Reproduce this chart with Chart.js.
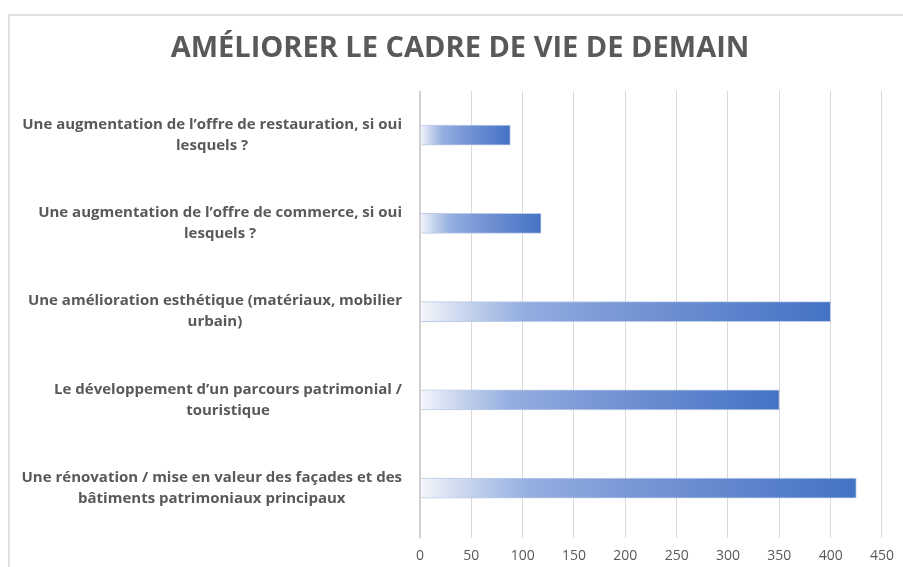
<!DOCTYPE html>
<html>
<head>
<meta charset="utf-8">
<script src="https://cdn.jsdelivr.net/npm/chart.js@4/dist/chart.umd.min.js"></script>
<style>
html, body { margin: 0; padding: 0; background: #fff; }
#wrap { position: relative; width: 903px; height: 567px; overflow: hidden; }
#frame { position: absolute; left: 8px; top: 14px; width: 1000px; height: 1000px;
         border-left: 2px solid #e0e0e0; border-top: 2px solid #e0e0e0; }
canvas { position: absolute; left: 0; top: 0; }
</style>
</head>
<body>
<div id="wrap">
  <div id="frame"></div>
  <canvas id="chart" width="903" height="577"></canvas>
</div>
<script>
// --- DATA ---
const chartTitle = "AMÉLIORER LE CADRE DE VIE DE DEMAIN";
const categories = [
    ["Une augmentation de l’offre de restauration, si oui", "lesquels ?"],
    ["Une augmentation de l’offre de commerce, si oui", "lesquels ?"],
    ["Une amélioration esthétique (matériaux, mobilier", "urbain)"],
    ["Le développement d’un parcours patrimonial /", "touristique"],
    ["Une rénovation / mise en valeur des façades et des", "bâtiments patrimoniaux principaux"]
];
const values = [88, 118, 400, 350, 425];
const xMin = 0;
const xMax = 450;
const xStep = 50;

const textColor = '#595959';
const gridColor = '#d9d9d9';

// gradient white -> blue for each bar, from 0 to the bar's end
function barGradient(c) {
    const chart = c.chart;
    if (!chart.chartArea || c.raw === undefined) return '#4472c4';
    const xs = chart.scales.x;
    const x0 = xs.getPixelForValue(0);
    const x1 = xs.getPixelForValue(c.raw);
    const g = chart.ctx.createLinearGradient(x0, 0, x1, 0);
    g.addColorStop(0, '#f4f6fb');
    g.addColorStop(0.12, '#c3d1ed');
    g.addColorStop(0.25, '#94aee0');
    g.addColorStop(0.5, '#7796d5');
    g.addColorStop(1, '#4472c4');
    return g;
}

// title + wrapped category labels drawn by hand (right block, centred lines)
const textPlugin = {
    id: 'texts',
    afterDraw(chart) {
        const ctx = chart.ctx;
        const ys = chart.scales.y;
        ctx.save();
        ctx.fillStyle = textColor;
        ctx.textBaseline = 'middle';
        ctx.textAlign = 'center';

        ctx.font = 'bold 29px "Open Sans"';
        ctx.fillText(chartTitle, 460, 49);

        ctx.font = 'bold 15px "Open Sans"';
        const lineH = 21;
        const rightEdge = 402;
        categories.forEach((lines, i) => {
            const y = ys.getPixelForValue(i);
            const w = Math.max(...lines.map(l => ctx.measureText(l).width));
            const cx = rightEdge - w / 2;
            lines.forEach((l, j) => {
                ctx.fillText(l, cx, y + (j - (lines.length - 1) / 2) * lineH);
            });
        });
        ctx.restore();
    }
};

new Chart(document.getElementById('chart'), {
    type: 'bar',
    data: {
        labels: categories.map(l => l.join(' ')),
        datasets: [{
            data: values,
            backgroundColor: barGradient,
            borderColor: 'rgba(180,199,231,0.9)',
            borderWidth: 1,
            barThickness: 20
        }]
    },
    options: {
        indexAxis: 'y',
        responsive: false,
        animation: false,
        layout: { padding: { top: 91, right: 20, bottom: 4, left: 0 } },
        plugins: {
            legend: { display: false },
            tooltip: { enabled: false }
        },
        scales: {
            x: {
                min: xMin,
                max: xMax,
                ticks: { stepSize: xStep, color: textColor, font: { family: 'Open Sans', size: 14 }, padding: 9 },
                grid: {
                    color: c => c.tick && c.tick.value === 0 ? '#d0d0d0' : gridColor,
                    lineWidth: c => c.tick && c.tick.value === 0 ? 2 : 1,
                    tickLength: 6
                },
                border: { display: false }
            },
            y: {
                ticks: { display: false },
                grid: { display: false },
                border: { display: false },
                afterFit(scale) { scale.width = 420; }
            }
        }
    },
    plugins: [textPlugin]
});
</script>
</body>
</html>
